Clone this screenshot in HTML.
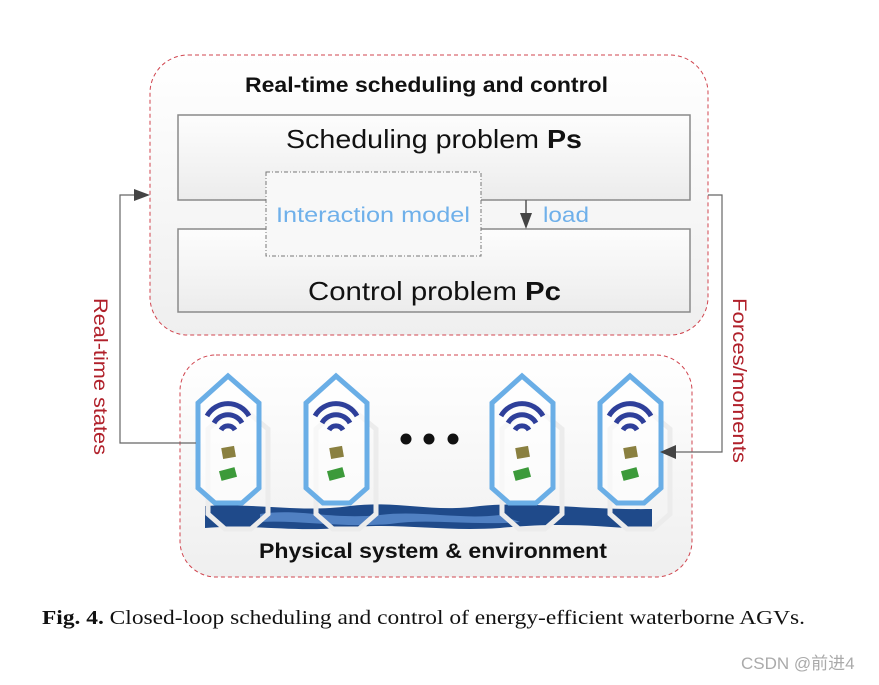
<!DOCTYPE html>
<html><head><meta charset="utf-8"><style>
body{margin:0;background:#fff;width:879px;height:680px;overflow:hidden}
</style></head><body>
<svg width="879" height="680" viewBox="0 0 879 680" xmlns="http://www.w3.org/2000/svg" font-family="Liberation Sans, sans-serif">
<defs>
<linearGradient id="g1" x1="0" y1="0" x2="0" y2="1"><stop offset="0" stop-color="#fff"/><stop offset="1" stop-color="#efefef"/></linearGradient>
<linearGradient id="g2" x1="0" y1="0" x2="0" y2="1"><stop offset="0" stop-color="#fdfdfd"/><stop offset="1" stop-color="#ececec"/></linearGradient>
<g id="boat">
<polygon points="20,28 50,53 50,138 33,153 7,153 -10,138 -10,53" transform="translate(20,0)" fill="none" stroke="#ececec" stroke-width="5"/>
<polygon points="0,27 30,0 61,27 61,112 44,127 17,127 0,112" fill="#fff" fill-opacity="0.6" stroke="#6aaee6" stroke-width="5"/>
<path d="M9,40 A24,24 0 0 1 51,40" fill="none" stroke="#2e3f9a" stroke-width="5"/>
<path d="M16,47 A16,16 0 0 1 44,47" fill="none" stroke="#2e3f9a" stroke-width="5"/>
<path d="M23,54 A8,8 0 0 1 37,54" fill="none" stroke="#2e3f9a" stroke-width="5"/>
<rect x="24" y="71" width="13" height="11" fill="#8a8040" transform="rotate(-10 30 76)"/>
<rect x="22" y="93" width="16" height="10" fill="#3c9a3a" transform="rotate(-15 30 98)"/>
</g>
</defs>
<!-- top container -->
<rect x="150" y="55" width="558" height="280" rx="38" fill="url(#g1)" stroke="#d0454f" stroke-dasharray="4,3" stroke-width="1"/>
<text x="245" y="92" font-size="21" font-weight="bold" fill="#111" textLength="363" lengthAdjust="spacingAndGlyphs">Real-time scheduling and control</text>
<rect x="178" y="115" width="512" height="85" fill="url(#g2)" stroke="#8a8a8a" stroke-width="1.5"/>
<text x="286" y="148" font-size="26" fill="#111" textLength="296" lengthAdjust="spacingAndGlyphs">Scheduling problem <tspan font-weight="bold">Ps</tspan></text>
<rect x="178" y="229" width="512" height="83" fill="url(#g2)" stroke="#8a8a8a" stroke-width="1.5"/>
<text x="308" y="300" font-size="26" fill="#111" textLength="253" lengthAdjust="spacingAndGlyphs">Control problem <tspan font-weight="bold">Pc</tspan></text>
<rect x="266" y="172" width="215" height="84" fill="#f8f8f8" stroke="#777" stroke-dasharray="4,2,1,2" stroke-width="1"/>
<text x="276" y="222" font-size="21" fill="#6fb0ea" textLength="194" lengthAdjust="spacingAndGlyphs">Interaction model</text>
<line x1="526" y1="200" x2="526" y2="216" stroke="#555" stroke-width="1.5"/>
<polygon points="520,213 532,213 526,229" fill="#444"/>
<text x="543" y="222" font-size="21" fill="#6fb0ea" textLength="46" lengthAdjust="spacingAndGlyphs">load</text>
<text transform="translate(94,298) rotate(90)" font-size="19" fill="#b0202a" textLength="157" lengthAdjust="spacingAndGlyphs">Real-time states</text>
<text transform="translate(733,298) rotate(90)" font-size="19" fill="#b0202a" textLength="165" lengthAdjust="spacingAndGlyphs">Forces/moments</text>
<!-- bottom container -->
<rect x="180" y="355" width="512" height="222" rx="36" fill="url(#g1)" stroke="#d0454f" stroke-dasharray="4,3" stroke-width="1"/>
<!-- waves -->
<path d="M205,506 C260,503 300,513 350,506 C400,500 430,513 480,506 C530,501 580,510 652,509 L652,530 C600,526 560,522 500,528 C440,532 400,522 340,528 C290,532 250,524 205,528 Z" fill="#1f4a8a"/>
<path d="M260,514 C300,508 330,520 380,515 C420,510 460,520 500,515 L520,522 C470,526 430,518 390,524 C340,528 300,520 260,522 Z" fill="#5c8dd0" opacity="0.8"/>
<use href="#boat" x="198" y="376"/>
<use href="#boat" x="306" y="376"/>
<use href="#boat" x="492" y="376"/>
<use href="#boat" x="600" y="376"/>
<circle cx="406" cy="439" r="5.5" fill="#111"/>
<circle cx="429" cy="439" r="5.5" fill="#111"/>
<circle cx="453" cy="439" r="5.5" fill="#111"/>
<text x="259" y="558" font-size="21" font-weight="bold" fill="#111" textLength="348" lengthAdjust="spacingAndGlyphs">Physical system &amp; environment</text>
<!-- connectors -->
<polyline points="196,443 120,443 120,195 138,195" fill="none" stroke="#666" stroke-width="1.2"/>
<polygon points="134,189 150,195 134,201" fill="#444"/>
<polyline points="708,195 722,195 722,452 674,452" fill="none" stroke="#666" stroke-width="1.2"/>
<polygon points="676,445 660,452 676,459" fill="#444"/>
<!-- caption -->
<text x="42" y="624" font-family="Liberation Serif, serif" font-size="20" fill="#111" textLength="763" lengthAdjust="spacingAndGlyphs"><tspan font-weight="bold">Fig. 4.</tspan>  Closed-loop scheduling and control of energy-efficient waterborne AGVs.</text>
<text x="741" y="669" font-family="Liberation Sans, Noto Sans CJK SC, sans-serif" font-size="17" fill="#aaa">CSDN @前进4</text>
</svg>
</body></html>
